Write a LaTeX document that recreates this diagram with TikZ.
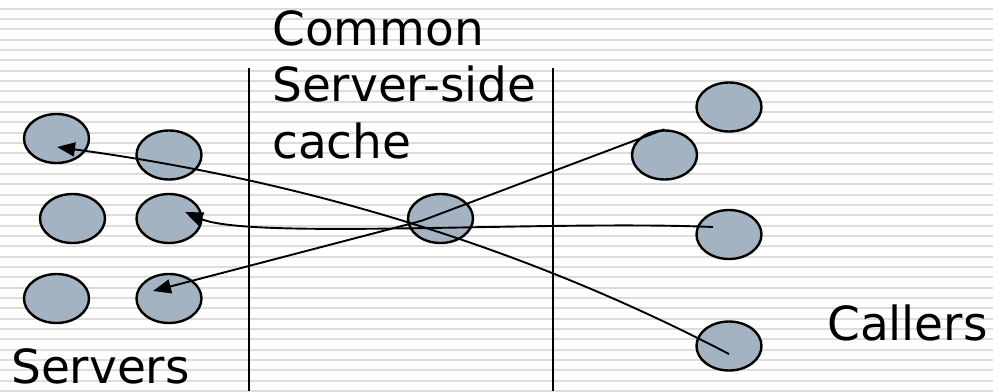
\documentclass[tikz,border=0pt]{standalone}
\usepackage{fontspec}
\setmainfont{DejaVu Sans}
\usetikzlibrary{shapes.geometric,arrows.meta}
\definecolor{nodefill}{RGB}{164,179,194}
\definecolor{stripe}{RGB}{221,221,221}
\tikzset{
  blob/.style={ellipse,draw=black,line width=2.4pt,fill=nodefill,minimum width=65pt,minimum height=49pt,inner sep=0pt},
  lbl/.style={anchor=base west,inner sep=0pt,font=\fontsize{47}{56}\selectfont},
  conn/.style={line width=1.9pt,-{Triangle[length=18pt,width=14pt]}},
  divider/.style={line width=2pt}
}
\begin{document}
\begin{tikzpicture}[x=1pt,y=-1pt]
\useasboundingbox (0,0) rectangle (993,391);
\fill[white] (0,0) rectangle (993,391);
\foreach \k in {0,...,37}{
  \draw[stripe,line width=2pt] (0,{8.7+10.33*\k}) -- (993,{8.7+10.33*\k});
}
% dividers
\coordinate (d1t) at (249,68); \coordinate (d1b) at (249,391);
\coordinate (d2t) at (553,68); \coordinate (d2b) at (553,391);
\draw[divider] (d1t) -- (d1b);
\draw[divider] (d2t) -- (d2b);
% servers
\node[blob] (s1) at (56.5,138.5) {};
\node[blob] (s2) at (169,155) {};
\node[blob] (s4) at (72.5,218.5) {};
\node[blob] (s5) at (169,218.5) {};
\node[blob] (s3) at (56.5,298.5) {};
\node[blob] (s6) at (169,298.5) {};
% cache
\node[blob] (cc) at (440.5,218.5) {};
% callers
\node[blob] (c1) at (729,107) {};
\node[blob] (c2) at (664.5,155) {};
\node[blob] (c3) at (729,234.5) {};
\node[blob] (c4) at (729,346) {};
% labels
\node[lbl] (t1) at (272,45) {Common};
\node[lbl] (t2) at (272,101) {Server-side};
\node[lbl] (t3) at (272,158) {cache};
\node[lbl] (ts) at (11,383) {Servers};
\node[lbl] (tc) at (827,340) {Callers};
% connectors
\coordinate (a1) at ([yshift=-8pt]c4.center);
\coordinate (b1) at ([xshift=0.5pt,yshift=-8.5pt]s1.center);
\draw[conn] (a1) .. controls (520,245) and (300,180) .. (b1);
\coordinate (hk) at ([xshift=-19.5pt,yshift=-2.5pt]cc.center);
\coordinate (b2) at ([xshift=-16pt,yshift=7.5pt]s6.center);
\draw[conn,rounded corners=5pt] (c2.north) -- (hk) -- (b2);
\coordinate (a3) at ([xshift=-16pt,yshift=7.5pt]c3.center);
\coordinate (b3) at ([xshift=16pt,yshift=6.5pt]s5.center);
\draw[conn] (a3) .. controls (550,220) and (250,240) .. (b3);
\end{tikzpicture}
\end{document}
